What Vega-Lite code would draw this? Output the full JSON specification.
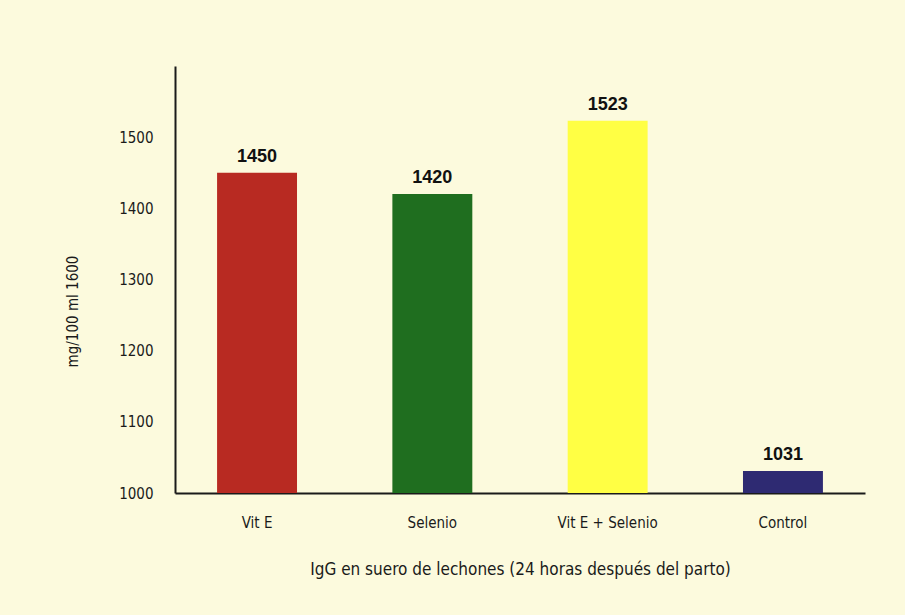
{
  "$schema": "https://vega.github.io/schema/vega-lite/v6.json",
  "width": 690,
  "height": 427,
  "autosize": {"type": "none"},
  "padding": {"left": 175, "top": 66, "right": 40, "bottom": 122},
  "background": "#FCFADD",
  "config": {
    "view": {"stroke": null},
    "axis": {"labelFont": "Liberation Sans Narrow, DejaVu Sans Condensed, Liberation Sans", "titleFont": "Liberation Sans Narrow, DejaVu Sans Condensed, Liberation Sans", "labelColor": "#1a1a1a", "titleColor": "#1a1a1a", "titleFontWeight": "normal"}
  },
  "data": {
    "values": [
      {"grupo": "Vit E", "igg": 1450, "color": "#B82A22"},
      {"grupo": "Selenio", "igg": 1420, "color": "#1F6E1F"},
      {"grupo": "Vit E + Selenio", "igg": 1523, "color": "#FFFF44"},
      {"grupo": "Control", "igg": 1031, "color": "#2E2A72"}
    ]
  },
  "encoding": {
    "x": {
      "field": "grupo",
      "type": "nominal",
      "sort": null,
      "scale": {"paddingInner": 0.544, "paddingOuter": 0.24},
      "axis": {
        "title": "IgG en suero de lechones (24 horas después del parto)",
        "labelAngle": 0,
        "labelFontSize": 15,
        "titleFontSize": 17,
        "ticks": false,
        "labelPadding": 22,
        "titlePadding": 31,
        "domainColor": "#1a1a1a",
        "domainWidth": 2
      }
    }
  },
  "layer": [
    {
      "mark": {"type": "bar"},
      "encoding": {
        "y": {
          "field": "igg",
          "type": "quantitative",
          "scale": {"domain": [1000, 1600], "zero": false, "nice": false},
          "axis": {
            "title": "mg/100 ml 1600",
            "values": [1000, 1100, 1200, 1300, 1400, 1500],
            "format": "d",
            "grid": false,
            "ticks": false,
            "labelFontSize": 15,
            "titleFontSize": 15,
            "labelPadding": 22,
            "titleX": -103,
            "titleY": 245,
            "titleAngle": -90,
            "titleBaseline": "middle",
            "titleAlign": "center",
            "domainColor": "#1a1a1a",
            "domainWidth": 2
          }
        },
        "y2": {"datum": 1000},
        "color": {"field": "color", "type": "nominal", "scale": null}
      }
    },
    {
      "mark": {"type": "text", "dy": -16, "fontSize": 18, "fontWeight": "bold", "font": "Liberation Sans", "color": "#111111"},
      "encoding": {
        "y": {"field": "igg", "type": "quantitative"},
        "text": {"field": "igg", "type": "quantitative"}
      }
    }
  ]
}
